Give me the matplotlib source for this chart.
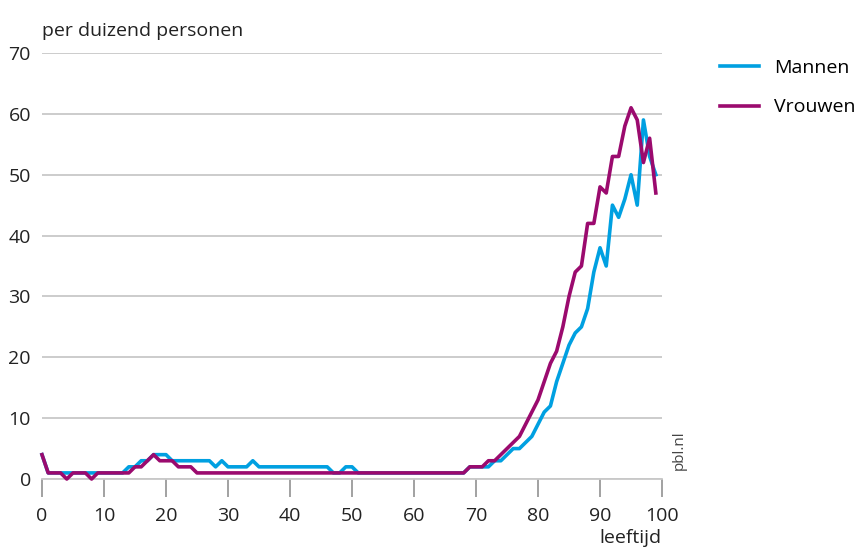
import numpy as np
import matplotlib.pyplot as plt

# sterfte per duizend personen, leeftijd 0..99
leeftijd = list(range(100))

mannen = [4, 1, 1, 1, 1, 1, 1, 1, 1, 1,
          1, 1, 1, 1, 2, 2, 3, 3, 4, 4,
          4, 3, 3, 3, 3, 3, 3, 3, 2, 3,
          2, 2, 2, 2, 3, 2, 2, 2, 2, 2,
          2, 2, 2, 2, 2, 2, 2, 1, 1, 2,
          2, 1, 1, 1, 1, 1, 1, 1, 1, 1,
          1, 1, 1, 1, 1, 1, 1, 1, 1, 2,
          2, 2, 2, 3, 3, 4, 5, 5, 6, 7,
          9, 11, 12, 16, 19, 22, 24, 25, 28, 34,
          38, 35, 45, 43, 46, 50, 45, 59, 53, 50]

vrouwen = [4, 1, 1, 1, 0, 1, 1, 1, 0, 1,
           1, 1, 1, 1, 1, 2, 2, 3, 4, 3,
           3, 3, 2, 2, 2, 1, 1, 1, 1, 1,
           1, 1, 1, 1, 1, 1, 1, 1, 1, 1,
           1, 1, 1, 1, 1, 1, 1, 1, 1, 1,
           1, 1, 1, 1, 1, 1, 1, 1, 1, 1,
           1, 1, 1, 1, 1, 1, 1, 1, 1, 2,
           2, 2, 3, 3, 4, 5, 6, 7, 9, 11,
           13, 16, 19, 21, 25, 30, 34, 35, 42, 42,
           48, 47, 53, 53, 58, 61, 59, 52, 56, 47]

x_ticks = [0, 10, 20, 30, 40, 50, 60, 70, 80, 90, 100]
y_ticks = [0, 10, 20, 30, 40, 50, 60, 70]

blauw = '#00a0e1'
paars = '#9b0a6e'
grijs = '#c8c8c8'

plt.rcParams['font.family'] = ['Open Sans', 'DejaVu Sans']

fig = plt.figure(figsize=(8.57, 5.47), dpi=100)
ax = fig.add_axes([0.049, 0.1243, 0.7235, 0.7788])

ax.plot(leeftijd, mannen, color=blauw, lw=2.6, label='Mannen',
        clip_on=False, solid_joinstyle='round', zorder=3)
ax.plot(leeftijd, vrouwen, color=paars, lw=2.6, label='Vrouwen',
        clip_on=False, solid_joinstyle='round', zorder=4)

ax.set_xlim(0, 100)
ax.set_ylim(0, 70)
ax.set_xticks(x_ticks)
ax.set_yticks(y_ticks)
ax.grid(axis='y', color=grijs, lw=1.3)
ax.set_axisbelow(True)
for s in ['top', 'right', 'left']:
    ax.spines[s].set_visible(False)
ax.spines['bottom'].set_color(grijs)
ax.spines['bottom'].set_linewidth(1.3)
ax.tick_params(axis='x', length=13, width=1.1, color='#888888', pad=7,
               labelsize=14, labelcolor='#222222')
ax.tick_params(axis='y', length=0, pad=8, labelsize=14, labelcolor='#222222')

ax.text(0, 1.03, 'per duizend personen', transform=ax.transAxes,
        fontsize=14, color='#222222', ha='left', va='bottom')
fig.text(0.772, 0.0, 'leeftijd', fontsize=14, color='#222222',
         ha='right', va='bottom')
fig.text(0.793, 0.14, 'pbl.nl', fontsize=11, color='#444444',
         rotation=90, ha='center', va='bottom')

ax.legend(loc='upper left', bbox_to_anchor=(1.065, 1.027), frameon=False,
          fontsize=14, handlelength=2.0, handletextpad=0.8, labelspacing=1.1)

fig.savefig('out.png', dpi=100)
